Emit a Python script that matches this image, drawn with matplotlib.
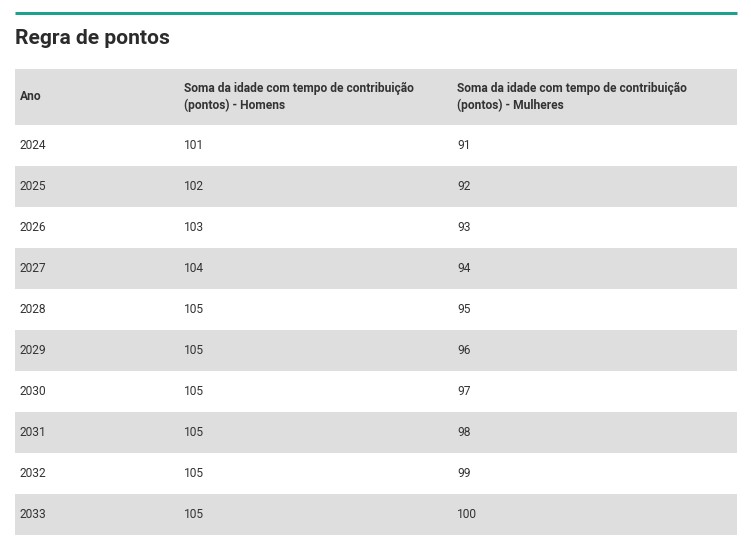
import matplotlib
matplotlib.use("Agg")
import matplotlib.pyplot as plt
from matplotlib.patches import Rectangle

years = ["2024","2025","2026","2027","2028","2029","2030","2031","2032","2033"]
homens = [101,102,103,104,105,105,105,105,105,105]
mulheres = [91,92,93,94,95,96,97,98,99,100]
headers = ["Ano", "Soma da idade com tempo de contribuição\n(pontos) - Homens",
           "Soma da idade com tempo de contribuição\n(pontos) - Mulheres"]
title = "Regra de pontos"

W, H = 751, 548
fig = plt.figure(figsize=(W/100, H/100), dpi=100)
ax = fig.add_axes([0, 0, 1, 1])
ax.set_xlim(0, W); ax.set_ylim(H, 0); ax.axis("off")
pt = 0.72
txt = "#333333"
ax.plot([15, 737], [13, 13], color="#1aa38a", lw=3*pt, solid_capstyle="butt")
ax.text(15, 39, title, fontsize=21*pt, fontweight="bold", color="#2b2b2b",
        family="Roboto", va="center", ha="left")
grey = "#dfdedf"
ax.add_patch(Rectangle((15, 69), 722, 56, color=grey, lw=0))
cols = [20, 184, 457]
for x, h in zip(cols, headers):
    ax.text(x, 97, h, fontsize=12*pt, fontweight="bold", color=txt, family="Roboto",
            va="center", ha="left", linespacing=1.4)
top = 125; rh = 41
for i, (y, a, b) in enumerate(zip(years, homens, mulheres)):
    y0 = top + i*rh
    if i % 2 == 1:
        ax.add_patch(Rectangle((15, y0), 722, rh, color=grey, lw=0))
    for x, v in zip(cols, [y, a, b]):
        ax.text(x, y0 + rh/2, str(v), fontsize=12*pt, color=txt, family="Roboto",
                va="center", ha="left")
fig.savefig("out.png", dpi=100)
